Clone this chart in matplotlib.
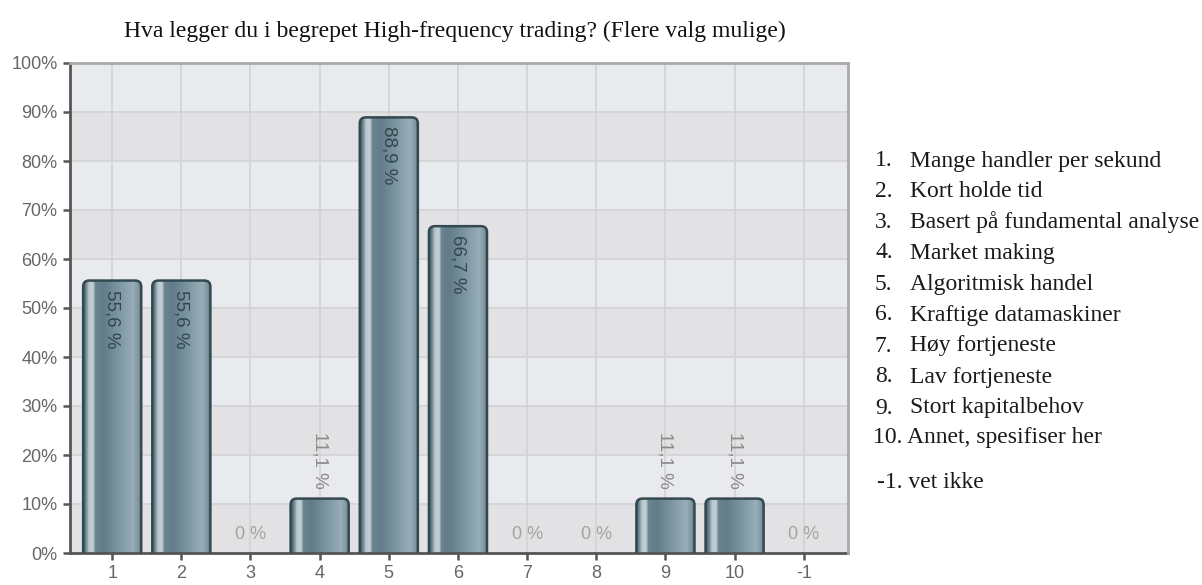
import numpy as np
import matplotlib
matplotlib.use("Agg")
import matplotlib.pyplot as plt
from matplotlib.patches import FancyBboxPatch
from matplotlib.colors import LinearSegmentedColormap

# Survey results
categories = ["1", "2", "3", "4", "5", "6", "7", "8", "9", "10", "-1"]
values = [55.6, 55.6, 0, 11.1, 88.9, 66.7, 0, 0, 11.1, 11.1, 0]
value_labels = ["55,6 %", "55,6 %", "0 %", "11,1 %", "88,9 %", "66,7 %",
                "0 %", "0 %", "11,1 %", "11,1 %", "0 %"]
y_ticks = [0, 10, 20, 30, 40, 50, 60, 70, 80, 90, 100]
y_tick_labels = [f"{t}%" for t in y_ticks]
title = "Hva legger du i begrepet High-frequency trading? (Flere valg mulige)"
legend_numbers = ["1.", "2.", "3.", "4.", "5.", "6.", "7.", "8.", "9."]
legend_texts = ["Mange handler per sekund", "Kort holde tid",
                "Basert på fundamental analyse", "Market making",
                "Algoritmisk handel", "Kraftige datamaskiner",
                "Høy fortjeneste", "Lav fortjeneste", "Stort kapitalbehov"]
legend_extra = ["10. Annet, spesifiser her", "-1. vet ikke"]

W, H = 1202, 585
fig = plt.figure(figsize=(W / 100, H / 100), dpi=100)
fig.patch.set_facecolor("white")

left, right, top, bottom = 70, 848, 63, 553
ax = fig.add_axes([left / W, 1 - bottom / H, (right - left) / W, (bottom - top) / H])
x = np.arange(len(categories))
xlim = (-0.61, len(categories) - 1 + 0.64)
ax.set_xlim(*xlim)
ax.set_ylim(0, 100)

# alternating horizontal bands
ax.set_facecolor("#e4e5e8")
for lo in y_ticks[:-1]:
    col = "#e2e2e4" if (lo // 10) % 2 == 0 else "#e8eaed"
    ax.axhspan(lo, lo + 10, color=col, zorder=0, lw=0)
for t in y_ticks[1:-1]:
    ax.axhline(t, color="#d2d3d5", lw=1.2, zorder=0.5)
for xi in x:
    ax.axvline(xi, color="#d2d3d5", lw=1.2, zorder=0.5)

# cylinder-like shading for the bars
shade = LinearSegmentedColormap.from_list("cyl", [
    (0.00, "#3f5763"), (0.05, "#6d8591"), (0.10, "#b9c7ce"),
    (0.17, "#c3d0d6"), (0.21, "#6a8390"), (0.35, "#627c89"),
    (0.65, "#809aa6"), (0.85, "#98aeb9"), (0.95, "#7d939e"),
    (1.00, "#4d6470")])
grad = np.linspace(0, 1, 256).reshape(1, -1)

bars = ax.bar(x, values, width=0.84, color="none", edgecolor="none", zorder=2)
px_x = (right - left) / (xlim[1] - xlim[0])
px_y = (bottom - top) / 100.0
r_px = 6
for b in bars:
    h = b.get_height()
    if h <= 0:
        continue
    x0, w = b.get_x(), b.get_width()
    patch = FancyBboxPatch((x0, -5), w, h + 5,
                           boxstyle=f"round,pad=0,rounding_size={r_px / px_x}",
                           mutation_aspect=(px_x / px_y),
                           facecolor="none", edgecolor="#34494f", lw=1.8, zorder=3)
    ax.add_patch(patch)
    im = ax.imshow(grad, cmap=shade, extent=[x0, x0 + w, 0, h],
                   aspect="auto", zorder=2.5, interpolation="bilinear")
    im.set_clip_path(patch)

ax.set_xlim(*xlim)
ax.set_ylim(0, 100)

# value labels
for xi, v, lab in zip(x, values, value_labels):
    if v == 0:
        ax.text(xi, 3.7, lab, ha="center", va="center", fontsize=13,
                family="Liberation Sans", color="#a3a3a3", zorder=4)
    elif v > 30:
        ax.annotate(lab, (xi, v), xytext=(0, -9), textcoords="offset pixels",
                    rotation=270, ha="center", va="top", fontsize=13.5,
                    family="Liberation Sans", color="#36454c", zorder=4)
    else:
        ax.annotate(lab, (xi, v), xytext=(0, 10), textcoords="offset pixels",
                    rotation=270, ha="center", va="bottom", fontsize=13.5,
                    family="Liberation Sans", color="#8a8a8a", zorder=4)

ax.set_xticks(x)
ax.set_xticklabels(categories)
ax.set_yticks(y_ticks)
ax.set_yticklabels(y_tick_labels)
ax.tick_params(axis="both", colors="#555555", labelcolor="#666666",
               labelsize=13, length=5, width=1.8, direction="out", pad=4)
for lbl in ax.get_xticklabels() + ax.get_yticklabels():
    lbl.set_family("Liberation Sans")

for s in ["left", "bottom"]:
    ax.spines[s].set_color("#555555")
    ax.spines[s].set_linewidth(2)
for s in ["top", "right"]:
    ax.spines[s].set_color("#a8a8a8")
    ax.spines[s].set_linewidth(2)
    ax.spines[s].set_zorder(5)

fig.text(455 / W, 1 - 31 / H, title, ha="center", va="center",
         fontsize=17, family="Liberation Serif", color="#111111")

# numbered legend on the right
ys = [161, 192, 222, 253, 284, 315, 346, 377, 408]
for yy, n, t in zip(ys, legend_numbers, legend_texts):
    fig.text(875 / W, 1 - yy / H, n, ha="left", va="center", fontsize=17,
             family="Liberation Serif", color="#1a1a1a")
    fig.text(910 / W, 1 - yy / H, t, ha="left", va="center", fontsize=17,
             family="Liberation Serif", color="#1a1a1a")
fig.text(873 / W, 1 - 438 / H, legend_extra[0], ha="left", va="center",
         fontsize=17, family="Liberation Serif", color="#1a1a1a")
fig.text(877 / W, 1 - 482 / H, legend_extra[1], ha="left", va="center",
         fontsize=17, family="Liberation Serif", color="#1a1a1a")

fig.savefig("out.png", dpi=100, facecolor="white")
